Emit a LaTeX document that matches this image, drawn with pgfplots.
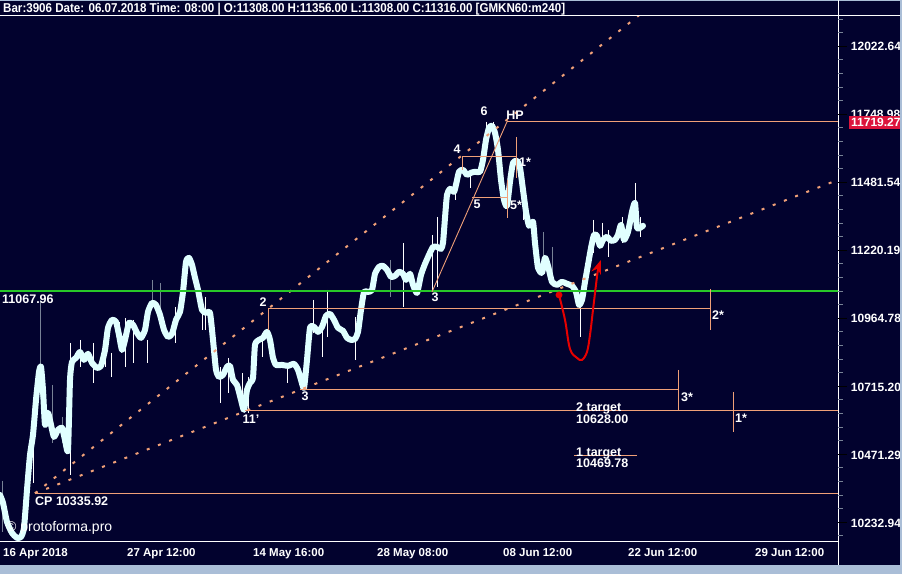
\documentclass[border=0pt]{standalone}
\usepackage{fontspec}
\setmainfont{Liberation Sans}
\usepackage{graphicx}
\usepackage{pgfplots}
\pgfplotsset{compat=1.18}
\usepackage{pgfplotstable}
\usetikzlibrary{arrows.meta}
\definecolor{bg}{RGB}{2,2,46}
\definecolor{frame}{RGB}{170,190,215}
\definecolor{salmon}{RGB}{240,160,120}
\definecolor{lime}{RGB}{40,200,40}
\definecolor{pline}{RGB}{224,255,255}
\definecolor{wickgrey}{RGB}{120,130,150}
\definecolor{crim}{RGB}{220,20,60}
\definecolor{redc}{RGB}{230,0,0}

\pgfplotstableread{
x price
0 10330.1
3 10302.1
7 10236.4
12 10198.4
17 10181.1
21 10184.5
24 10215.7
27 10347.7
30 10470.8
33 10542.1
36 10667.3
39 10769.1
41 10787.3
43 10703.7
45 10577.9
48 10620.8
51 10577.9
54 10534.8
58 10559.9
62 10567.1
65 10524.2
68 10488.4
70 10740.0
72 10805.5
76 10820.0
80 10841.8
84 10812.7
88 10834.6
92 10801.8
97 10783.7
101 10790.9
105 10849.1
108 10930.5
112 10960.1
116 10952.7
119 10904.6
122 10849.1
125 10886.1
129 10949.0
133 10941.6
137 10912.0
141 10893.5
145 10923.1
148 10989.7
152 11023.0
156 11015.6
160 10978.6
164 10923.1
168 10897.2
172 10908.3
176 10960.1
180 10989.7
183 11064.2
186 11177.1
189 11192.2
192 11165.8
195 11116.9
198 11071.7
202 10997.1
206 10986.0
210 10986.0
213 10886.1
216 10776.4
219 10750.9
223 10758.2
227 10787.3
230 10790.9
233 10740.0
237 10721.8
241 10667.3
244 10631.5
247 10703.7
250 10729.1
253 10747.3
255 10867.6
259 10886.1
263 10893.5
267 10915.7
270 10886.1
273 10820.0
276 10794.6
282 10794.6
288 10790.9
294 10798.2
298 10776.4
301 10740.0
304 10710.9
307 10812.7
310 10930.5
314 10934.2
318 10915.7
322 10934.2
326 10974.9
330 10982.3
334 10960.1
338 10930.5
343 10919.4
347 10893.5
351 10886.1
355 10889.8
358 10915.7
361 10997.1
364 11064.2
368 11064.2
372 11071.7
375 11132.0
379 11158.3
383 11162.1
387 11147.0
391 11120.7
395 11124.4
399 11139.5
403 11132.0
406 11109.4
410 11132.0
413 11090.6
417 11060.4
421 11128.2
425 11169.6
429 11203.5
433 11233.8
437 11233.8
441 11226.1
443 11249.1
445 11344.8
447 11433.2
450 11456.5
454 11444.8
456 11472.1
459 11522.7
463 11530.5
467 11511.0
471 11518.8
475 11522.7
480 11522.7
483 11569.4
486 11647.9
489 11695.4
492 11703.3
495 11675.6
498 11608.3
501 11491.5
504 11413.7
507 11390.7
510 11483.8
513 11557.7
517 11565.5
520 11538.2
523 11452.6
526 11367.8
529 11314.2
533 11329.5
535 11249.1
538 11154.5
542 11135.7
545 11192.2
548 11162.1
552 11101.9
557 11090.6
562 11101.9
567 11094.3
572 11086.8
576 11064.2
579 11015.6
582 11034.1
585 11101.9
588 11165.8
591 11230.0
594 11279.7
597 11275.9
600 11237.6
603 11260.6
607 11272.1
611 11256.8
615 11260.6
618 11279.7
621 11318.0
624 11260.6
628 11291.2
632 11367.8
635 11402.2
637 11306.5
640 11306.5
643 11314.2
}\pricepath

\tikzset{lab/.style={text=white, inner sep=0pt, text height=8.6pt, text depth=0pt,
  font=\fontsize{12.5}{14}\selectfont\bfseries}}

\begin{document}
\begin{tikzpicture}[x=1pt,y=1pt]
\useasboundingbox (0,-33) rectangle (902,541);
\fill[bg] (0,-33) rectangle (902,541);
\begin{axis}[at={(0,0)}, anchor=south west, width=838pt, height=525pt, scale only axis,
  y coord trafo/.code={\pgfmathparse{ln(#1)-9}},
  y coord inv trafo/.code={\pgfmathparse{exp(#1+9)}},
  xmin=0, xmax=838, ymin=10170.5, ymax=12146.5,
  axis line style={draw=none},
  tick style={draw=none}, major tick length=0pt, minor tick length=0pt,
  ytick={10232.94,10471.29,10715.20,10964.78,11220.19,11481.54,11748.98,12022.64},
  yticklabels={10232.94,10471.29,10715.20,10964.78,11220.19,11481.54,11748.98,12022.64},
  yticklabel pos=right,
  yticklabel style={anchor=west, inner sep=0pt, xshift=12.7pt, text=white,
    text height=8.6pt, text depth=0pt, font=\fontsize{12}{14}\selectfont\bfseries},
  xtick={3,127,253,377,503,628,755},
  xticklabels={16 Apr 2018,27 Apr 12:00,14 May 16:00,28 May 08:00,08 Jun 12:00,22 Jun 12:00,29 Jun 12:00},
  xticklabel style={anchor=north west, inner sep=0pt, yshift=-7pt, text=white,
    text height=8.6pt, text depth=0pt, font=\fontsize{11.5}{14}\selectfont\bfseries},
]
% candle wicks
\foreach \wx/\wh/\wl in {40/11034.1/10678.2, 52/10721.8/10513.4, 62/10606.5/10513.4,
  152/11109.4/11008.2, 160/11098.1/10960.1, 390/11184.7/11045.4, 543/11291.2/11158.3,
  552/11233.8/11109.4, 2/10380.0/10200.0}{
  \edef\temp{\noexpand\addplot[wickgrey, line width=1pt] coordinates {(\wx,\wh)(\wx,\wl)};}\temp}
\foreach \wx/\wh/\wl in {33/10534.9/10372.3, 70/10875.0/10400.5, 80/10886.1/10787.3,
  93/10875.0/10729.1, 105/10886.1/10787.3, 111/10838.2/10750.9, 119/10952.7/10849.1,
  125/10967.5/10787.3, 133/10960.1/10801.8, 147/10886.1/10801.8, 175/11008.2/10875.0,
  202/10986.0/10923.1, 205/11045.4/10923.1, 220/10787.3/10656.6, 228/10820.0/10692.7,
  242/10765.5/10656.6, 248/10750.9/10620.8, 262/10912.0/10823.6, 287/10794.6/10729.1,
  313/11034.1/10912.0, 322/10960.1/10823.6, 327/11071.7/10897.2, 355/10971.2/10812.7,
  403/11249.1/11008.2, 432/11279.7/11071.7, 437/11348.6/11083.0, 455/11491.5/11413.7,
  470/11530.5/11460.4, 486/11719.27/11647.9, 493/11719.27/11680.0, 523/11425.4/11337.1,
  532/11337.1/11260.6, 580/11034.1/10897.2, 593/11337.1/11211.0, 602/11325.7/11233.8,
  608/11298.9/11196.0, 622/11348.6/11249.1, 635/11479.8/11386.9, 640/11348.6/11272.1}{
  \edef\temp{\noexpand\addplot[white, line width=1pt] coordinates {(\wx,\wh)(\wx,\wl)};}\temp}
% price path
\addplot[pline, line width=6pt, smooth, tension=0.35, line join=round, line cap=round]
  table[x=x, y=price] {\pricepath};
% fan lines
\addplot[salmon, line width=2pt, dash pattern=on 3pt off 9pt] coordinates {(35,10335.92)(641,12155.1)};
\addplot[salmon, line width=2pt, dash pattern=on 3pt off 9pt] coordinates {(35,10335.92)(838,11491.5)};
% levels
\addplot[lime, line width=2pt] coordinates {(0,11067.96)(838,11067.96)};
\addplot[salmon, line width=1pt] coordinates {(507,11719.27)(838,11719.27)};
\addplot[salmon, line width=0.9pt] coordinates {(432,11064.2)(507,11719.27)};
\addplot[salmon, line width=1pt] coordinates {(268,10923.1)(268,11000.8)(710,11000.8)};
\addplot[salmon, line width=1pt] coordinates {(710,11075.5)(710,10923.1)};
\addplot[salmon, line width=1pt] coordinates {(300,10703.7)(678,10703.7)};
\addplot[salmon, line width=1pt] coordinates {(678,10776.4)(678,10627.9)};
\addplot[salmon, line width=1pt] coordinates {(245,10628.00)(838,10628.00)};
\addplot[salmon, line width=1pt] coordinates {(733,10696.4)(733,10552.8)};
\addplot[salmon, line width=1pt] coordinates {(35,10335.92)(838,10335.92)};
\addplot[salmon, line width=1pt] coordinates {(574,10469.78)(637,10469.78)};
\addplot[salmon, line width=1pt] coordinates {(462,11530.5)(462,11581.1)(516,11581.1)};
\addplot[salmon, line width=1pt] coordinates {(516,11659.8)(516,11499.3)};
\addplot[salmon, line width=1pt] coordinates {(472,11421.5)(508,11421.5)};
\addplot[salmon, line width=1pt] coordinates {(507,11491.5)(507,11344.8)};
% red projection
\addplot[redc, line width=2pt, smooth, tension=0.6, -{Stealth[length=14pt,width=10pt]}] coordinates {
(559,11052.9)(565,10960.1)(570,10852.6)(577,10820.0)(582,10812.7)(587,10841.8)(590,10904.6)
(593,10997.1)(596,11090.6)(598,11147.0)(601,11184.7)};
\addplot[only marks, mark=*, mark size=3.2pt, redc] coordinates {(559,11052.9)};
\end{axis}
% frame and separators
\fill[frame] (0,-33) rectangle (902,-24);
\fill[frame] (900,-33) rectangle (902,541);
\fill[frame] (0,540) rectangle (902,541);
\draw[white, line width=1pt] (0,525) -- (900,525);
\draw[white, line width=1pt] (838,541) -- (838,-24);
\draw[white, line width=1pt] (0,0) -- (838,0);
% price scale ticks
\foreach \k in {-2,...,36} \draw[wickgrey, line width=1pt] (838,{494.7-13.6*\k}) -- ++(5,0);
\foreach \k in {0,5,...,35} \draw[black, line width=1.5pt] (838,{494.7-13.6*\k}) -- ++(9,0);
% current price box
\fill[crim] (849,412) rectangle (900,425);
\node[lab, anchor=west, font=\fontsize{12}{14}\selectfont\bfseries] at (851,418.5) {11719.27};
% header
\node[anchor=base west, inner sep=0pt, text=white] at (3,528.5)
  {\resizebox{562pt}{9.3pt}{\fontsize{12}{14}\selectfont\bfseries Bar:3906 Date: 06.07.2018 Time: 08:00 | O:11308.00 H:11356.00 L:11308.00 C:11316.00 [GMKN60:m240]}};
% wave labels
\node[lab] at (484,430) {6};
\node[lab] at (515,426) {HP};
\node[lab] at (457,392) {4};
\node[lab] at (477,337) {5};
\node[lab] at (516,336) {5*};
\node[lab] at (525,379) {1*};
\node[lab] at (435,244) {3};
\node[lab] at (263,239) {2};
\node[lab] at (305,145) {3};
\node[lab] at (251,122) {11'};
\node[lab] at (718,226) {2*};
\node[lab] at (687,144) {3*};
\node[lab] at (741,123) {1*};
\node[lab, anchor=west] at (576,134) {2 target};
\node[lab, anchor=west] at (576,122) {10628.00};
\node[lab, anchor=west] at (576,89) {1 target};
\node[lab, anchor=west] at (576,78) {10469.78};
\node[lab, anchor=west] at (35,40) {CP 10335.92};
\node[lab, anchor=west, font=\fontsize{14}{16}\selectfont] at (6,14) {© protoforma.pro};
\node[lab, anchor=west] at (2,242) {11067.96};
\end{tikzpicture}
\end{document}
